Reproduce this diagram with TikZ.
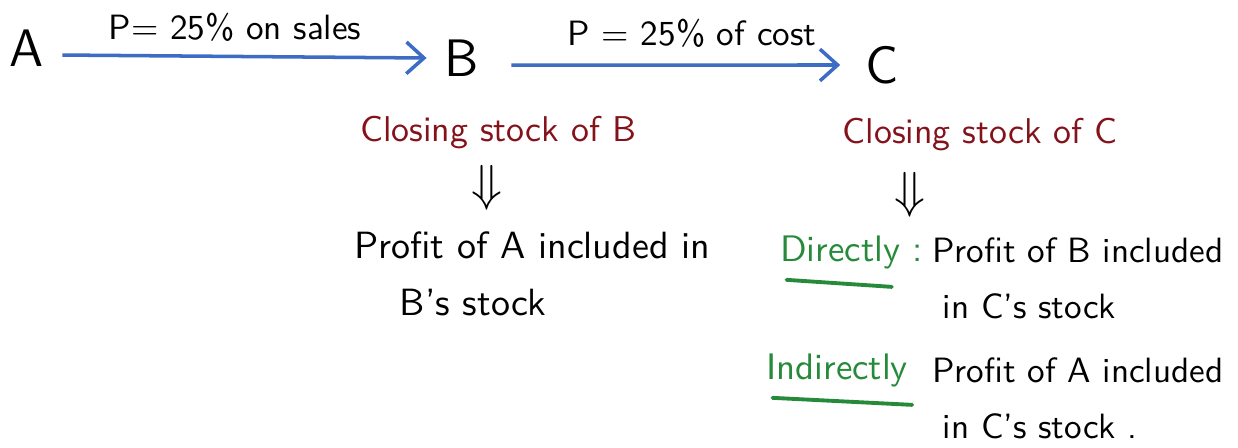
\documentclass[tikz,border=0pt]{standalone}
\usetikzlibrary{arrows.meta,positioning}
\colorlet{myink}{black}
\definecolor{myblue}{HTML}{3C6CC4}
\definecolor{myred}{HTML}{84121A}
\definecolor{mygreen}{HTML}{268A3A}

\begin{document}
\begin{tikzpicture}[
  font=\sffamily,
  party/.style ={font=\sffamily\fontsize{15}{17}\selectfont, text=myink, inner sep=1pt},
  rate/.style  ={font=\sffamily\fontsize{10}{12}\selectfont, text=myink, inner sep=1pt},
  head/.style  ={font=\sffamily\fontsize{10.2}{12}\selectfont, text=myred, inner sep=1pt},
  note/.style  ={font=\sffamily\fontsize{10.8}{16}\selectfont, text=myink, align=left, inner sep=1pt},
  tag/.style   ={font=\sffamily\fontsize{10.5}{13}\selectfont, text=mygreen, inner sep=1pt},
  sale/.style  ={draw=myblue, line width=1pt, -{Straight Barb[length=5pt,width=9pt]}},
  uline/.style ={draw=mygreen, line width=1.1pt, line cap=round},
  imply/.style ={font=\fontsize{14}{16}\selectfont, text=myink, inner sep=0pt},
]
\useasboundingbox (0,0) rectangle (12.38,-4.47);

% ==================================================== top row: A -> B -> C
\node[party] (nA) at (0.27,-0.48) {A};
\node[party] (nB) at (4.62,-0.58) {B};
\node[party] (nC) at (8.82,-0.65) {C};

\draw[sale] ([xshift=4pt,yshift=-2pt]nA.east) -- ([xshift=-4pt]nB.west);
\draw[sale] ([xshift=8pt,yshift=-2pt]nB.east) -- ([xshift=-6pt]nC.west);

\node[rate] (onsales) at (2.35,-0.27) {P= 25\% on sales};
\node[rate] (oncost)  at (6.92,-0.33) {P = 25\% of cost};

% ==================================================== middle: closing stock of B
\node[head] (stockB) at (4.98,-1.33) {Closing stock of B};
\node[imply] (impB) at (4.87,-1.88) {$\Downarrow$};
\node[note, anchor=north west] (profA) at (3.50,-2.28)
  {Profit of A included in\\\hspace*{1.2em}B's stock};

% ==================================================== right: closing stock of C
\node[head] (stockC) at (9.80,-1.35) {Closing stock of C};
\node[imply] (impC) at (9.10,-1.95) {$\Downarrow$};

\node[tag, anchor=west] (direct) at (7.76,-2.52) {Directly :};
\node[note, anchor=north west, font=\sffamily\fontsize{10}{16}\selectfont] (profB) at (9.28,-2.33)
  {Profit of B included\\\hspace*{0.3em}in C's stock};
\draw[uline] ([xshift=3pt,yshift=-2pt]direct.south west) -- ([xshift=-10pt,yshift=-4pt]direct.south east);

\node[tag, anchor=west] (indirect) at (7.62,-3.70) {Indirectly};
\node[note, anchor=north west, font=\sffamily\fontsize{10}{16}\selectfont] (profAC) at (9.28,-3.53)
  {Profit of A included\\\hspace*{0.3em}in C's stock .};
\draw[uline] ([xshift=3pt,yshift=-2pt]indirect.south west) -- ([yshift=-4pt]indirect.south east);

\end{tikzpicture}
\end{document}
